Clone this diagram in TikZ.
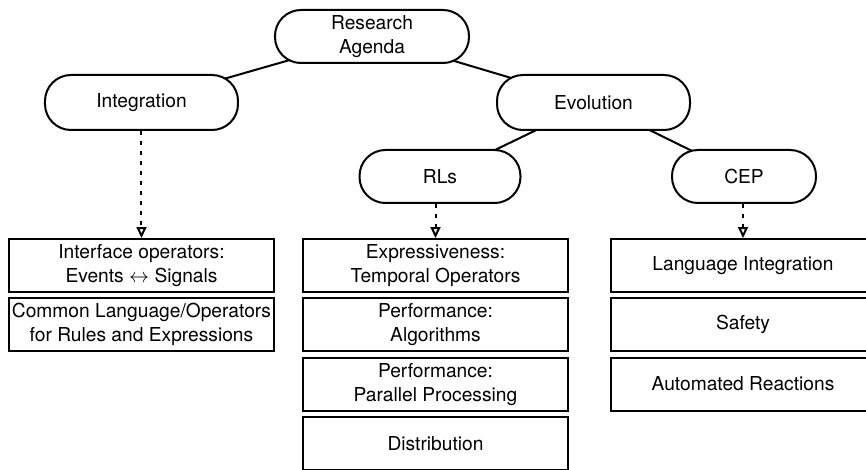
\documentclass[tikz,border=0pt]{standalone}
\usepackage{fontspec}
\setmainfont{TeX Gyre Heros}
\usepackage{amsmath}
\usetikzlibrary{arrows.meta,backgrounds}

\begin{document}
\begin{tikzpicture}[>={Triangle[open,width=5pt,length=5.5pt]},
		font=\fontsize{9.6}{12}\selectfont,
		pill/.style={draw,line width=1pt,fill=white,align=center,rounded corners=13pt,minimum height=26.5pt,inner sep=0pt},
		item/.style={draw,line width=1pt,fill=white,align=center,minimum width=132.5pt,minimum height=26.5pt,inner xsep=1pt,inner ysep=2pt},
		link/.style={line width=1pt},
		hint/.style={->,line width=1pt,dash pattern=on 1.8pt off 3.2pt}]
		\useasboundingbox (-186pt,18.25pt) rectangle (247pt,-216.75pt);
		\clip (-186pt,18.25pt) rectangle (247pt,-216.75pt);
		\node (agenda) [pill,minimum width=97pt] {Research\\Agenda};
		\coordinate[node distance=33pt, below of=agenda] (uA);
		\node (integ) [pill,minimum width=96.5pt,minimum height=27.5pt, node distance=115.25pt, left of=uA] {Integration};
		\node (evol) [pill,minimum width=96.5pt,minimum height=27.5pt, node distance=110.75pt, right of=uA] {Evolution};
		\coordinate[node distance=37pt, below of=evol] (uE);
		\node (rls) [pill,minimum width=80.5pt, node distance=76.75pt, left of=uE] {RLs};
		\node (cep) [pill,minimum width=72pt, node distance=75.25pt, right of=uE] {CEP};
		\node (lb1) [item, node distance=81.5pt, below of=integ] {Interface operators:\\Events $\leftrightarrow$ Signals};
		\node (lb2) [item, node distance=29.65pt, below of=lb1] {Common Language/Operators\\for Rules and Expressions};
		\node (mb1) [item, node distance=147pt, right of=lb1] {Expressiveness:\\Temporal Operators};
		\node (mb2) [item, node distance=29.65pt, below of=mb1] {Performance:\\Algorithms};
		\node (mb3) [item, node distance=29.65pt, below of=mb2] {Performance:\\Parallel Processing};
		\node (mb4) [item, node distance=29.65pt, below of=mb3] {Distribution};
		\node (rb1) [item, node distance=153.75pt, right of=mb1] {Language Integration};
		\node (rb2) [item, node distance=29.65pt, below of=rb1] {Safety};
		\node (rb3) [item, node distance=29.65pt, below of=rb2] {Automated Reactions};
		\begin{scope}[on background layer]
		\draw[link] (agenda.center) -- (integ.center);
		\draw[link] (agenda.center) -- (evol.center);
		\draw[link] (evol.center) -- (rls.center);
		\draw[link] (evol.center) -- (cep.center);
		\end{scope}
		\draw[hint] (integ) -- (lb1);
		\draw[hint] (rls.south -| mb1) -- (mb1);
		\draw[hint] (cep.south -| rb1) -- (rb1);
\end{tikzpicture}
\end{document}
